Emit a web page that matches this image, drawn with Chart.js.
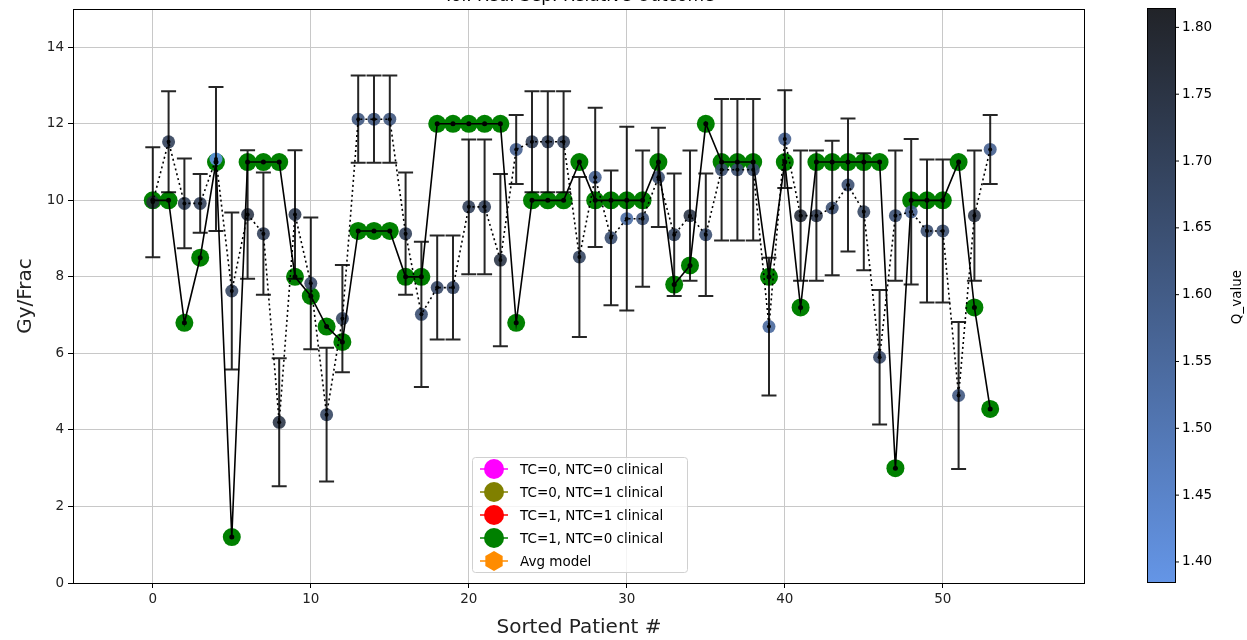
<!DOCTYPE html>
<html>
<head>
<meta charset="utf-8">
<script src="https://cdn.jsdelivr.net/npm/chart.js@4"></script>
<style>
  html, body { margin: 0; padding: 0; background: #fff; }
  #wrap { width: 1247px; height: 640px; }
</style>
</head>
<body>
<div id="wrap"><canvas id="myChart" width="1247" height="640"></canvas></div>
<script>
'use strict';
// patient index 0..53
const patients = [0,1,2,3,4,5,6,7,8,9,10,11,12,13,14,15,16,17,18,19,20,21,22,23,24,25,26,27,28,29,30,31,32,33,34,35,36,37,38,39,40,41,42,43,44,45,46,47,48,49,50,51,52,53];
// clinical Gy/Frac (TC=1, NTC=0)
const clinical = [10,10,6.8,8.5,11,1.2,11,11,11,8,7.5,6.7,6.3,9.2,9.2,9.2,8,8,12,12,12,12,12,6.8,10,10,10,11,10,10,10,10,11,7.8,8.3,12,11,11,11,8,11,7.2,11,11,11,11,11,3,10,10,10,11,7.2,4.55];
// model mean and error
const model = [9.95,11.53,9.92,9.92,11.08,7.63,9.63,9.13,4.2,9.63,7.83,4.4,6.91,12.12,12.12,12.12,9.13,7.02,7.72,7.72,9.83,9.83,8.44,11.33,11.53,11.53,11.53,8.52,10.6,9.02,9.52,9.52,10.6,9.1,9.6,9.1,10.8,10.8,10.8,6.7,11.6,9.6,9.6,9.8,10.4,9.7,5.9,9.6,9.7,9.2,9.2,4.9,9.6,11.33];
const modelErr = [1.44,1.32,1.17,0.77,1.88,2.05,1.68,1.6,1.67,1.68,1.72,1.75,1.4,1.14,1.14,1.14,1.6,1.9,1.36,1.36,1.76,1.76,2.25,0.9,1.32,1.32,1.32,2.09,1.82,1.76,2.4,1.78,1.3,1.6,1.7,1.6,1.85,1.85,1.85,1.8,1.28,1.7,1.7,1.76,1.74,1.53,1.76,1.7,1.9,1.87,1.87,1.92,1.7,0.9];
const qValue = [1.77,1.70,1.70,1.70,1.39,1.68,1.74,1.70,1.74,1.72,1.67,1.68,1.68,1.62,1.62,1.62,1.70,1.65,1.67,1.67,1.70,1.70,1.74,1.58,1.70,1.70,1.70,1.68,1.58,1.65,1.53,1.63,1.65,1.68,1.74,1.65,1.65,1.65,1.65,1.55,1.58,1.77,1.72,1.65,1.65,1.68,1.67,1.65,1.58,1.65,1.65,1.61,1.74,1.58];

const xTicks = [0,10,20,30,40,50];
const yTicks = [0,2,4,6,8,10,12,14];
const qMin = 1.385, qMax = 1.8145;
const cbTicks = [1.40,1.45,1.50,1.55,1.60,1.65,1.70,1.75,1.80];

const legendLabels = ['TC=0, NTC=0 clinical','TC=0, NTC=1 clinical','TC=1, NTC=1 clinical','TC=1, NTC=0 clinical','Avg model'];
const legendColors = ['#ff00ff','#808000','#ff0000','#008000','#ff8c00'];

const lightRGB = [100,149,230], darkRGB = [33,35,40];
function qColor(q, a) {
    let t = (q - qMin) / (qMax - qMin);
    t = Math.max(0, Math.min(1, t));
    const c = lightRGB.map((v, i) => Math.round(v + (darkRGB[i] - v) * t));
    return `rgba(${c[0]},${c[1]},${c[2]},${a})`;
}

const FONT = 'DejaVu Sans';

// error bars drawn through the scales
const errorBars = {
    id: 'errorBars',
    afterDatasetDraw(chart, args) {
        if (args.index !== 1) return;
        const ctx = chart.ctx, x = chart.scales.x, y = chart.scales.y;
        ctx.save();
        ctx.strokeStyle = 'rgba(0,0,0,0.85)';
        ctx.lineWidth = 2;
        patients.forEach((p, i) => {
            const px = x.getPixelForValue(p);
            const top = y.getPixelForValue(model[i] + modelErr[i]);
            const bot = y.getPixelForValue(model[i] - modelErr[i]);
            ctx.beginPath();
            ctx.moveTo(px, top); ctx.lineTo(px, bot);
            ctx.moveTo(px - 7.5, top); ctx.lineTo(px + 7.5, top);
            ctx.moveTo(px - 7.5, bot); ctx.lineTo(px + 7.5, bot);
            ctx.stroke();
        });
        ctx.restore();
    }
};

// frame, title, legend, colorbar
const decor = {
    id: 'decor',
    afterDraw(chart) {
        const ctx = chart.ctx, a = chart.chartArea;
        ctx.save();
        ctx.strokeStyle = '#000';
        ctx.lineWidth = 1;
        ctx.strokeRect(a.left + 0.5, a.top + 0.5, a.right - a.left - 1, a.bottom - a.top);

        // title, clipped at the top
        ctx.fillStyle = '#000';
        ctx.font = `17px "${FONT}"`;
        ctx.textAlign = 'center';
        ctx.textBaseline = 'alphabetic';
        ctx.fillText('Tol. Red. Sep. Relative Outcome', (a.left + a.right) / 2, 1);

        // legend
        const lx = 472, ly = 457, lw = 215, lh = 115;
        ctx.fillStyle = 'rgba(255,255,255,0.8)';
        ctx.strokeStyle = '#d0d0d0';
        ctx.beginPath();
        ctx.roundRect(lx + 0.5, ly + 0.5, lw, lh, 3);
        ctx.fill(); ctx.stroke();
        ctx.font = `13.5px "${FONT}"`;
        ctx.textAlign = 'left';
        ctx.textBaseline = 'middle';
        legendLabels.forEach((lab, i) => {
            const cy = ly + 12 + i * 23;
            const col = legendColors[i];
            ctx.strokeStyle = col;
            ctx.lineWidth = 1.5;
            ctx.beginPath(); ctx.moveTo(480, cy); ctx.lineTo(508, cy); ctx.stroke();
            ctx.fillStyle = col;
            ctx.beginPath();
            if (i < 4) {
                ctx.arc(494, cy, 10, 0, Math.PI * 2);
            } else {
                for (let k = 0; k < 6; k++) {
                    const ang = Math.PI / 2 + k * Math.PI / 3;
                    const hx = 494 + 10 * Math.cos(ang), hy = cy + 10 * Math.sin(ang);
                    k === 0 ? ctx.moveTo(hx, hy) : ctx.lineTo(hx, hy);
                }
                ctx.closePath();
            }
            ctx.fill();
            ctx.fillStyle = '#000';
            ctx.fillText(lab, 520, cy + 1);
        });

        // colorbar
        const cx = 1147, cw = 28, ct = 8, cb = 582;
        const grad = ctx.createLinearGradient(0, cb, 0, ct);
        grad.addColorStop(0, qColor(qMin, 1));
        grad.addColorStop(1, qColor(qMax, 1));
        ctx.fillStyle = grad;
        ctx.fillRect(cx, ct, cw, cb - ct);
        ctx.strokeStyle = '#000';
        ctx.lineWidth = 1;
        ctx.strokeRect(cx + 0.5, ct + 0.5, cw, cb - ct);
        ctx.fillStyle = '#000';
        ctx.font = `13.5px "${FONT}"`;
        ctx.textAlign = 'left';
        ctx.textBaseline = 'middle';
        cbTicks.forEach(v => {
            const py = cb - (v - qMin) / (qMax - qMin) * (cb - ct);
            ctx.beginPath(); ctx.moveTo(cx + cw, py); ctx.lineTo(cx + cw + 4, py); ctx.stroke();
            ctx.fillText(v.toFixed(2), cx + cw + 7, py);
        });
        ctx.translate(1237, 297);
        ctx.rotate(-Math.PI / 2);
        ctx.textAlign = 'center';
        ctx.fillText('Q_value', 0, 0);
        ctx.restore();
    }
};

const ctx = document.getElementById('myChart').getContext('2d');
new Chart(ctx, {
    type: 'scatter',
    data: {
        datasets: [
            {
                label: 'clinical markers',
                data: patients.map((p, i) => ({x: p, y: clinical[i]})),
                pointRadius: 9,
                pointBackgroundColor: '#008000',
                pointBorderWidth: 0,
                showLine: false,
                order: 5
            },
            {
                label: 'model markers',
                data: patients.map((p, i) => ({x: p, y: model[i]})),
                pointRadius: 6.5,
                pointBackgroundColor: qValue.map(q => qColor(q, 0.9)),
                pointBorderWidth: 0,
                showLine: false,
                order: 4
            },
            {
                label: 'clinical line',
                data: patients.map((p, i) => ({x: p, y: clinical[i]})),
                showLine: true,
                borderColor: '#000',
                borderWidth: 1.6,
                pointRadius: 2.5,
                pointBackgroundColor: '#000',
                pointBorderWidth: 0,
                tension: 0,
                order: 2
            },
            {
                label: 'Avg model',
                data: patients.map((p, i) => ({x: p, y: model[i]})),
                showLine: true,
                borderColor: '#000',
                borderWidth: 1.6,
                borderDash: [2, 3],
                pointRadius: 2,
                pointBackgroundColor: '#000',
                pointBorderWidth: 0,
                tension: 0,
                order: 1
            }
        ]
    },
    options: {
        responsive: false,
        animation: false,
        layout: { padding: { left: 0, right: 162, top: 8, bottom: 0 } },
        plugins: { legend: { display: false }, tooltip: { enabled: false } },
        scales: {
            x: {
                type: 'linear',
                min: -5.05,
                max: 59,
                afterBuildTicks: s => { s.ticks = xTicks.map(v => ({value: v})); },
                afterFit: s => { s.height = 57; s.paddingLeft = 0; s.paddingRight = 0; },
                grid: { color: '#c8c8c8', lineWidth: 1, tickColor: '#000', tickLength: 5 },
                border: { display: false },
                ticks: { color: '#222', font: { family: FONT, size: 13.5 }, padding: 3, maxRotation: 0 },
                title: { display: true, text: 'Sorted Patient #', color: '#222', font: { family: FONT, size: 20 }, padding: { top: 3, bottom: 0 } }
            },
            y: {
                type: 'linear',
                min: 0,
                max: 15,
                afterBuildTicks: s => { s.ticks = yTicks.map(v => ({value: v})); },
                afterFit: s => { s.width = 73; s.paddingTop = 0; s.paddingBottom = 0; },
                grid: { color: '#c8c8c8', lineWidth: 1, tickColor: '#000', tickLength: 5 },
                border: { display: false },
                ticks: { color: '#222', font: { family: FONT, size: 13.5 }, padding: 4 },
                title: { display: true, text: 'Gy/Frac', color: '#222', font: { family: FONT, size: 20 }, padding: { top: 14, bottom: 0 } }
            }
        }
    },
    plugins: [errorBars, decor]
});
</script>
</body>
</html>
